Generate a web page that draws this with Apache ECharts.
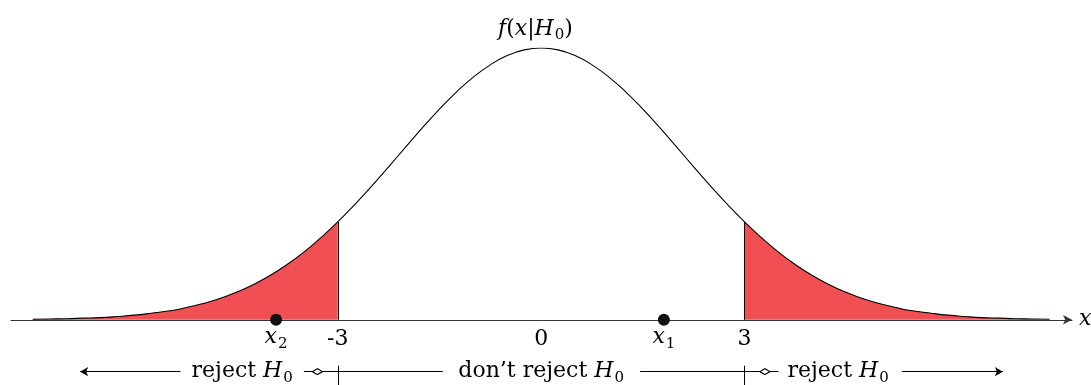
<!DOCTYPE html>
<html lang="en" style="height: 100%;margin: 0;background-color: #ffffff;">
<head>
    <meta charset="UTF-8">
    <title>chart</title>
</head>
<body style="height: 100%;margin: 0;background-color: #ffffff;">
<div id="chart" style="width: 1091px;height: 385px;margin: 0;"></div>
<script src="https://cdn.jsdelivr.net/npm/echarts@6/dist/echarts.min.js"></script>
<script>
    // density curve (peak = 100)
    var curveX = [-7.5, -7.25, -7, -6.75, -6.5, -6.25, -6, -5.75, -5.5, -5.25, -5, -4.75, -4.5, -4.25, -4, -3.75,
        -3.5, -3.25, -3, -2.75, -2.5, -2.25, -2, -1.75, -1.5, -1.25, -1, -0.75, -0.5, -0.25, 0,
        0.25, 0.5, 0.75, 1, 1.25, 1.5, 1.75, 2, 2.25, 2.5, 2.75, 3, 3.25, 3.5, 3.75, 4, 4.25, 4.5,
        4.75, 5, 5.25, 5.5, 5.75, 6, 6.25, 6.5, 6.75, 7, 7.25, 7.5];
    var curveY = [0.2, 0.3, 0.4, 0.6, 0.8, 1.2, 1.7, 2.4, 3.2, 4.4, 5.9, 7.7, 10.1, 12.9, 16.3, 20.3,
        24.9, 30.2, 36.0, 42.4, 49.2, 56.3, 63.5, 70.7, 77.5, 83.8, 89.3, 93.8, 97.2, 99.3, 100,
        99.3, 97.2, 93.8, 89.3, 83.8, 77.5, 70.7, 63.5, 56.3, 49.2, 42.4, 36.0, 30.2, 24.9, 20.3, 16.3, 12.9, 10.1,
        7.7, 5.9, 4.4, 3.2, 2.4, 1.7, 1.2, 0.8, 0.6, 0.4, 0.3, 0.2];
    var criticalValues = [-3, 3];
    var tickValues = [-3, 0, 3];
    var tickLabels = ["-3", "0", "3"];
    var obsX = [1.81, -3.91];
    var obsSub = ["1", "2"];
    var regionX = [-4.41, 0, 4.38];
    var regionText = ["reject", "don\u2019t reject", "reject"];

    var chart = echarts.init(document.getElementById("chart"), null, {renderer: 'canvas'});

    var serif = "'DejaVu Serif', 'Liberation Serif', serif";
    var ink = "#000000";
    var rich = {
        n: {fontFamily: serif, fontSize: 22, color: ink, fontWeight: 'normal', lineHeight: 24},
        i: {fontFamily: serif, fontSize: 22, color: ink, fontWeight: 'normal', fontStyle: 'italic', lineHeight: 24},
        s: {fontFamily: serif, fontSize: 15, color: ink, fontWeight: 'normal', lineHeight: 15, padding: [13, 0, 0, 1]}
    };

    var curve = curveX.map(function (x, k) { return [x, curveY[k]]; });
    var leftTail = curve.filter(function (p) { return p[0] <= criticalValues[0]; });
    var rightTail = curve.filter(function (p) { return p[0] >= criticalValues[1]; });
    function yAt(x) { return curveY[curveX.indexOf(x)]; }

    var rowY = -19.1;
    function seg(a, b, symA, symB) {
        return [{coord: [a, rowY], symbol: symA}, {coord: [b, rowY], symbol: symB}];
    }

    var tailStyle = {
        type: 'line', smooth: true, symbol: 'none', z: 1,
        lineStyle: {width: 0},
        areaStyle: {color: '#F04F54', opacity: 1}
    };
    var plainText = {textBorderWidth: 0, textShadowBlur: 0, opacity: 1};

    var option = {
        animation: false,
        backgroundColor: '#ffffff',
        title: {
            text: '{i|f}{n|(}{i|x}{n||}{i|H}{s|0}{n|)}',
            left: 493, top: 12,
            textStyle: {fontWeight: 'normal', rich: rich}
        },
        grid: {left: 11, right: 19, top: 48, bottom: 0, containLabel: false, outerBoundsMode: 'none'},
        xAxis: {
            type: 'value', min: -7.82, max: 7.83,
            splitLine: {show: false},
            axisTick: {show: false},
            axisLabel: {show: false},
            axisLine: {onZero: true, symbol: ['none', 'arrow'], symbolSize: [7, 9],
                lineStyle: {color: '#333', width: 1}},
            name: 'x', nameLocation: 'end', nameGap: 7,
            nameTextStyle: {fontFamily: serif, fontSize: 22, fontStyle: 'italic', color: ink, verticalAlign: 'middle'}
        },
        yAxis: {type: 'value', min: -24, max: 100, show: false},
        series: [
            Object.assign({}, tailStyle, {
                data: leftTail,
                markLine: {
                    silent: true, symbol: 'none', label: {show: false},
                    lineStyle: {color: ink, width: 1, type: 'solid'},
                    data: [[{coord: [criticalValues[0], 0]}, {coord: [criticalValues[0], yAt(criticalValues[0])]}]]
                }
            }),
            Object.assign({}, tailStyle, {
                data: rightTail,
                markLine: {
                    silent: true, symbol: 'none', label: {show: false},
                    lineStyle: {color: ink, width: 1, type: 'solid'},
                    data: [[{coord: [criticalValues[1], 0]}, {coord: [criticalValues[1], yAt(criticalValues[1])]}]]
                }
            }),
            {
                type: 'line', smooth: true, symbol: 'none', z: 3,
                data: curve,
                lineStyle: {color: ink, width: 1.1}
            },
            {
                // tick labels on the axis
                type: 'scatter', z: 4, symbolSize: 1,
                itemStyle: {color: 'rgba(0,0,0,0)', opacity: 1},
                data: tickValues.map(function (v) { return [v, 0]; }),
                label: Object.assign({
                    show: true, position: 'bottom', distance: 8,
                    fontFamily: serif, fontSize: 22, color: ink,
                    formatter: function (p) { return tickLabels[p.dataIndex]; }
                }, plainText)
            },
            {
                type: 'scatter', z: 4, symbolSize: 12,
                itemStyle: {color: '#111', opacity: 1},
                data: obsX.map(function (x) { return [x, 0]; }),
                label: Object.assign({
                    show: true, position: 'bottom', distance: 0,
                    formatter: function (p) { return '{i|x}{s|' + obsSub[p.dataIndex] + '}'; },
                    rich: rich
                }, plainText)
            },
            {
                // decision regions under the axis
                type: 'scatter', z: 4, symbolSize: 1,
                itemStyle: {color: 'rgba(0,0,0,0)', opacity: 1},
                data: regionX.map(function (x) { return [x, rowY]; }),
                label: Object.assign({
                    show: true, position: 'inside',
                    formatter: function (p) { return '{n|' + regionText[p.dataIndex] + ' }{i|H}{s|0}'; },
                    rich: rich
                }, plainText),
                markLine: {
                    silent: true, label: {show: false}, symbolSize: [7, 8],
                    lineStyle: {color: ink, width: 1, type: 'solid'},
                    data: [
                        seg(-6.8, -5.32, 'arrow', 'none'),
                        seg(-3.5, -1.45, 'none', 'none'),
                        seg(1.46, 3.5, 'none', 'none'),
                        seg(5.32, 6.81, 'none', 'arrow'),
                        [{coord: [criticalValues[0], -16.9], symbol: 'none'}, {coord: [criticalValues[0], -24], symbol: 'none'}],
                        [{coord: [criticalValues[1], -16.9], symbol: 'none'}, {coord: [criticalValues[1], -24], symbol: 'none'}]
                    ]
                }
            },
            {
                type: 'scatter', z: 5, symbol: 'diamond', symbolSize: [10, 6],
                itemStyle: {color: '#ffffff', borderColor: ink, borderWidth: 1.2, opacity: 1},
                data: [[-3.3, rowY], [3.3, rowY]]
            }
        ]
    };
    chart.setOption(option, true);
</script>
</body>
</html>
